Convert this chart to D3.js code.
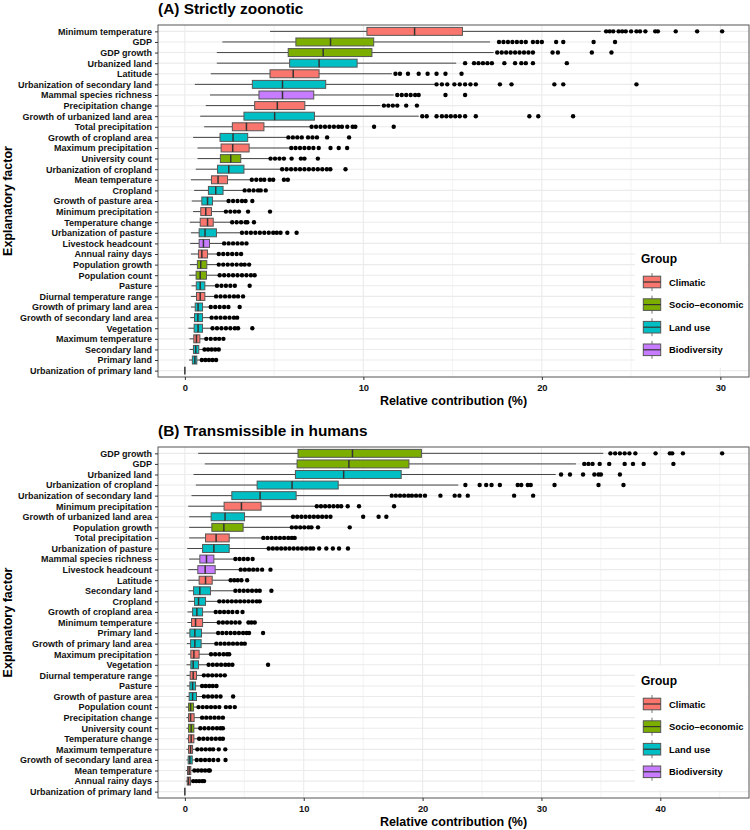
<!DOCTYPE html>
<html>
<head>
<meta charset="utf-8">
<script src="https://cdn.jsdelivr.net/npm/d3@7"></script>
<style>
  body { margin: 0; background: #fff; }
  svg { display: block; font-family: "Liberation Sans", Arial, Helvetica, sans-serif; }
</style>
</head>
<body>
<svg id="chart" width="750" height="830"></svg>
<script>
var groupNames = ["Climatic", "Socio–economic", "Land use", "Biodiversity"];
var groupColors = ["#F8766D", "#7CAE00", "#00BFC4", "#C77CFF"];

var climaticFactors = ["Minimum temperature", "Latitude", "Precipitation change", "Total precipitation",
  "Maximum precipitation", "Mean temperature", "Minimum precipitation", "Temperature change",
  "Annual rainy days", "Diurnal temperature range", "Maximum temperature"];
var socioFactors = ["GDP", "GDP growth", "University count", "Population growth", "Population count"];
var bioFactors = ["Mammal species richness", "Livestock headcount"];

// (A) Strictly zoonotic
var factorsA = ["Minimum temperature", "GDP", "GDP growth", "Urbanized land", "Latitude",
  "Urbanization of secondary land", "Mammal species richness", "Precipitation change",
  "Growth of urbanized land area", "Total precipitation", "Growth of cropland area",
  "Maximum precipitation", "University count", "Urbanization of cropland", "Mean temperature",
  "Cropland", "Growth of pasture area", "Minimum precipitation", "Temperature change",
  "Urbanization of pasture", "Livestock headcount", "Annual rainy days", "Population growth",
  "Population count", "Pasture", "Diurnal temperature range", "Growth of primary land area",
  "Growth of secondary land area", "Vegetation", "Maximum temperature", "Secondary land",
  "Primary land", "Urbanization of primary land"];
var lowA = [4.77, 2.1, 1.79, 1.79, 1.45, 0.56, 1.41, 1.17, 0.86, 1.08, 0.46, 0.71, 0.71, 0.61, 0.34, 0.52,
  0.39, 0.46, 0.28, 0.34, 0.3, 0.34, 0.28, 0.24, 0.37, 0.34, 0.34, 0.3, 0.2, 0.26, 0.26, 0.24, 0];
var q1A = [10.2, 6.22, 5.79, 5.87, 4.77, 3.78, 4.15, 3.91, 3.31, 2.66, 1.97, 2.03, 1.99, 1.83, 1.49, 1.32,
  0.95, 0.89, 0.86, 0.8, 0.8, 0.76, 0.7, 0.63, 0.64, 0.65, 0.58, 0.54, 0.52, 0.5, 0.48, 0.42, 0];
var medA = [12.87, 8.16, 7.75, 7.52, 6.07, 5.47, 5.47, 5.18, 5.03, 3.45, 2.7, 2.68, 2.57, 2.46, 1.86, 1.73,
  1.27, 1.17, 1.27, 1.13, 1.04, 0.95, 0.89, 0.86, 0.86, 0.86, 0.74, 0.73, 0.74, 0.65, 0.61, 0.56, 0];
var q3A = [15.55, 10.58, 10.48, 9.65, 7.52, 7.89, 7.22, 6.72, 7.26, 4.43, 3.52, 3.6, 3.13, 3.31, 2.39, 2.14,
  1.55, 1.49, 1.59, 1.77, 1.38, 1.27, 1.23, 1.21, 1.12, 1.12, 0.99, 0.99, 0.99, 0.84, 0.78, 0.67, 0];
var highA = [23.3, 17.1, 17.3, 15.2, 11.6, 14.0, 11.7, 10.95, 13.1, 7.04, 5.74, 5.9, 4.71, 5.42, 3.69, 3.31,
  2.39, 2.23, 2.61, 3.16, 2.15, 1.86, 1.83, 1.92, 1.76, 1.68, 1.41, 1.48, 1.5, 1.17, 1.08, 0.93, 0];
var outliersA = [
  [23.6, 23.8, 24.0, 24.3, 24.5, 24.7, 25.0, 25.3, 25.5, 25.8, 26.35, 26.5, 27.5, 28.7, 30.1],
  [17.6, 17.85, 18.1, 18.35, 18.6, 18.85, 19.1, 19.5, 19.75, 20.0, 20.8, 21.2, 22.9, 24.1],
  [17.5, 17.75, 18.0, 18.25, 18.5, 18.75, 19.0, 19.25, 19.5, 20.6, 20.9, 22.8, 23.9],
  [15.7, 16.2, 16.45, 16.7, 16.95, 17.2, 17.9, 18.5, 18.85, 19.1, 19.5, 21.4],
  [11.8, 12.05, 12.5, 13.1, 13.6, 14.1, 14.6, 15.5],
  [14.1, 14.4, 14.7, 15.1, 15.4, 15.7, 16.0, 16.3, 17.65, 18.3, 20.7, 21.2, 25.3],
  [11.9, 12.15, 12.4, 12.65, 12.9, 13.1, 14.6, 15.7],
  [11.15, 11.4, 11.65, 11.9, 12.4, 13.0],
  [13.3, 13.55, 14.1, 14.4, 14.65, 14.9, 15.15, 15.4, 15.7, 16.3, 19.3, 19.8, 21.75],
  [7.1, 7.35, 7.6, 7.85, 8.1, 8.35, 8.6, 8.8, 9.1, 9.4, 9.55, 10.6, 11.7],
  [5.8, 6.05, 6.3, 6.55, 6.9, 7.15, 7.4, 7.97, 9.2],
  [5.96, 6.2, 6.45, 6.7, 6.95, 7.2, 7.5, 8.16, 8.62, 9.09],
  [4.8, 5.05, 5.3, 5.55, 5.98, 6.5, 6.7, 7.45],
  [5.45, 5.7, 5.95, 6.2, 6.45, 6.7, 6.95, 7.2, 7.45, 7.7, 7.95, 8.15, 9.0],
  [3.75, 4.0, 4.25, 4.45, 4.75, 4.95, 5.55, 5.77],
  [3.35, 3.6, 3.85, 4.1, 4.25, 4.53],
  [2.45, 2.7, 2.95, 3.2, 3.4, 3.78],
  [2.3, 2.55, 2.8, 3.03, 3.54, 4.77],
  [2.65, 2.9, 3.15, 3.4, 3.5, 3.87],
  [3.2, 3.45, 3.7, 3.95, 4.2, 4.45, 4.7, 4.95, 5.15, 5.36, 5.74, 6.26],
  [2.2, 2.45, 2.7, 2.95, 3.2, 3.45],
  [1.9, 2.15, 2.4, 2.65, 2.9, 3.15],
  [1.9, 2.15, 2.4, 2.65, 2.9, 3.15, 3.35, 3.6],
  [1.95, 2.2, 2.45, 2.7, 2.95, 3.2, 3.45, 3.7, 3.91],
  [1.8, 2.05, 2.3, 2.55, 2.8, 3.63],
  [1.75, 2.0, 2.25, 2.5, 2.75, 2.98, 3.26],
  [1.45, 1.7, 1.95, 2.2, 2.44, 3.07],
  [1.5, 1.75, 2.0, 2.25, 2.5, 2.75, 2.93],
  [1.55, 1.8, 2.05, 2.3, 2.55, 2.8, 2.98, 3.78],
  [1.2, 1.45, 1.7, 1.92, 2.16],
  [1.1, 1.3, 1.5, 1.7, 1.9],
  [0.95, 1.15, 1.35, 1.55, 1.75],
  []
];

// (B) Transmissible in humans
var factorsB = ["GDP growth", "GDP", "Urbanized land", "Urbanization of cropland",
  "Urbanization of secondary land", "Minimum precipitation", "Growth of urbanized land area",
  "Population growth", "Total precipitation", "Urbanization of pasture", "Mammal species richness",
  "Livestock headcount", "Latitude", "Secondary land", "Cropland", "Growth of cropland area",
  "Minimum temperature", "Primary land", "Growth of primary land area", "Maximum precipitation",
  "Vegetation", "Diurnal temperature range", "Pasture", "Growth of pasture area", "Population count",
  "Precipitation change", "University count", "Temperature change", "Maximum temperature",
  "Growth of secondary land area", "Mean temperature", "Annual rainy days",
  "Urbanization of primary land"];
var lowB = [1.12, 1.68, 0.73, 0.92, 0.56, 0.28, 0.36, 0.36, 0.36, 0.2, 0.36, 0.28, 0.22, 0.3, 0.28, 0.22,
  0.22, 0.14, 0.17, 0.28, 0.14, 0.14, 0.17, 0.14, 0.08, 0.14, 0.14, 0.14, 0.14, 0.14, 0.08, 0.08, 0];
var q1B = [9.52, 9.44, 9.3, 6.08, 3.95, 3.3, 2.21, 2.27, 1.74, 1.49, 1.26, 1.09, 1.2, 0.73, 0.81, 0.65,
  0.56, 0.42, 0.48, 0.5, 0.5, 0.45, 0.42, 0.36, 0.31, 0.31, 0.31, 0.31, 0.31, 0.28, 0.22, 0.2, 0];
var medB = [14.1, 13.8, 13.36, 9.02, 6.33, 4.76, 3.38, 3.28, 2.63, 2.44, 1.82, 1.71, 1.74, 1.26, 1.15, 1.01,
  0.9, 0.84, 0.84, 0.76, 0.7, 0.7, 0.65, 0.65, 0.48, 0.48, 0.53, 0.53, 0.48, 0.42, 0.36, 0.31, 0];
var q3B = [19.9, 18.85, 18.2, 12.9, 9.36, 6.41, 5.02, 4.9, 3.73, 3.73, 2.44, 2.55, 2.3, 2.16, 1.74, 1.49,
  1.49, 1.4, 1.37, 1.2, 1.15, 0.98, 0.9, 0.98, 0.73, 0.78, 0.76, 0.76, 0.65, 0.62, 0.5, 0.48, 0];
var highB = [35.2, 32.9, 31.2, 23.0, 17.2, 11.07, 9.1, 8.97, 6.58, 7.0, 4.2, 4.62, 3.78, 4.2, 2.88, 2.52,
  2.8, 2.75, 2.6, 2.16, 1.96, 1.54, 1.4, 1.54, 1.12, 1.4, 1.26, 1.15, 1.03, 0.98, 0.76, 0.65, 0];
var outliersB = [
  [35.8, 36.2, 36.6, 37.0, 37.4, 37.9, 39.6, 40.8, 41.0, 41.9, 45.2],
  [33.6, 33.95, 34.3, 34.9, 35.7, 37.0, 37.7, 38.6, 41.1],
  [31.65, 32.4, 33.5, 34.45, 34.8, 35.0, 36.6],
  [23.6, 24.8, 25.35, 25.8, 26.5, 28.0, 28.3, 28.85, 29.1, 31.1, 34.8, 36.9],
  [17.4, 17.75, 18.1, 18.45, 18.8, 19.1, 19.45, 19.8, 20.2, 21.5, 22.7, 23.1, 23.8, 27.7, 29.3],
  [11.1, 11.45, 11.8, 12.15, 12.5, 12.85, 13.15, 13.7, 14.65, 17.6],
  [9.1, 9.45, 9.8, 10.15, 10.5, 10.85, 11.2, 11.55, 11.9, 12.25, 15.0, 16.3, 16.95],
  [9.0, 9.35, 9.7, 10.05, 10.4, 10.65, 11.2, 13.87],
  [6.6, 6.95, 7.3, 7.65, 8.0, 8.35, 8.7, 9.0, 9.24],
  [7.05, 7.4, 7.75, 8.1, 8.45, 8.8, 9.15, 9.5, 9.85, 10.2, 10.55, 10.8, 11.3, 11.9, 12.45, 12.97, 13.72],
  [4.25, 4.6, 4.95, 5.3, 5.7],
  [4.7, 5.05, 5.4, 5.75, 6.1, 6.5, 7.2],
  [3.85, 4.15, 4.45, 4.76, 5.24],
  [4.25, 4.6, 4.95, 5.3, 5.65, 6.0, 6.3, 7.28],
  [2.9, 3.25, 3.6, 3.95, 4.3, 4.65, 5.0, 5.35, 5.7, 6.05, 6.3],
  [2.6, 2.95, 3.3, 3.65, 4.0, 4.4, 4.85],
  [2.85, 3.2, 3.55, 3.9, 4.25, 4.6, 5.35, 5.6, 5.88],
  [2.8, 3.15, 3.5, 3.85, 4.2, 4.55, 4.9, 5.2, 5.4, 6.58],
  [2.65, 3.0, 3.35, 3.7, 4.05, 4.4, 4.75, 5.04],
  [2.2, 2.55, 2.9, 3.25, 3.55, 3.73],
  [2.0, 2.35, 2.7, 3.05, 3.4, 3.7, 4.0, 7.0],
  [1.6, 1.95, 2.3, 2.65, 3.0, 3.36],
  [1.45, 1.75, 2.05, 2.35, 2.66],
  [1.6, 1.95, 2.3, 2.65, 3.0, 4.06],
  [1.15, 1.5, 1.85, 2.2, 2.55, 2.9, 3.45, 3.8, 4.2],
  [1.45, 1.8, 2.15, 2.5, 2.85, 3.2],
  [1.3, 1.65, 2.0, 2.35, 2.7, 3.0, 3.2],
  [1.2, 1.55, 1.9, 2.25, 2.6, 2.95, 3.2],
  [1.05, 1.4, 1.75, 2.1, 2.38, 2.85, 3.4],
  [1.0, 1.35, 1.7, 2.05, 2.4, 2.8, 3.42],
  [0.8, 1.1, 1.4, 1.7, 2.0, 2.1],
  [0.7, 0.95, 1.2, 1.45, 1.62],
  []
];

var ticksA = [0, 10, 20, 30];
var minorA = [5, 15, 25];
var ticksB = [0, 10, 20, 30, 40];
var minorB = [5, 15, 25, 35, 45];

var svg = d3.select("#chart");
var plotLeft = 158;
var plotRight = 749;

function groupOf(name) {
  if (climaticFactors.indexOf(name) >= 0) return 0;
  if (socioFactors.indexOf(name) >= 0) return 1;
  if (bioFactors.indexOf(name) >= 0) return 3;
  return 2;
}

/**
 * Draws one boxplot panel with its legend
 */
function drawPanel(p) {
  var g = svg.append("g");
  var maxVal = d3.max([d3.max(p.high), d3.max(p.outliers, function(o) { return d3.max(o) || 0; })]);

  var x = d3.scaleLinear()
    .domain([-0.05 * maxVal, 1.05 * maxVal])
    .range([plotLeft, plotRight]);
  var y = d3.scalePoint()
    .domain(p.factors)
    .range([p.top, p.bottom])
    .padding(0.6);
  var boxH = y.step() * 0.75;

  // grid
  g.selectAll(".minor").data(p.minor).enter().append("line")
    .attr("x1", function(d) { return x(d); }).attr("x2", function(d) { return x(d); })
    .attr("y1", p.top).attr("y2", p.bottom)
    .attr("stroke", "#EBEBEB").attr("stroke-width", 0.6);
  g.selectAll(".major").data(p.ticks).enter().append("line")
    .attr("x1", function(d) { return x(d); }).attr("x2", function(d) { return x(d); })
    .attr("y1", p.top).attr("y2", p.bottom)
    .attr("stroke", "#EBEBEB").attr("stroke-width", 1.1);
  g.selectAll(".hgrid").data(p.factors).enter().append("line")
    .attr("x1", plotLeft).attr("x2", plotRight)
    .attr("y1", function(d) { return y(d); }).attr("y2", function(d) { return y(d); })
    .attr("stroke", "#EBEBEB").attr("stroke-width", 1.1);

  var rows = p.factors.map(function(f, i) {
    return { name: f, low: p.low[i], q1: p.q1[i], med: p.med[i], q3: p.q3[i], high: p.high[i],
      out: p.outliers[i], grp: groupOf(f) };
  });

  var row = g.selectAll(".row").data(rows).enter().append("g")
    .attr("transform", function(d) { return "translate(0," + y(d.name) + ")"; });

  row.append("line")
    .attr("x1", function(d) { return x(d.low); }).attr("x2", function(d) { return x(d.q1); })
    .attr("stroke", "#444").attr("stroke-width", 1);
  row.append("line")
    .attr("x1", function(d) { return x(d.q3); }).attr("x2", function(d) { return x(d.high); })
    .attr("stroke", "#444").attr("stroke-width", 1);
  row.append("rect")
    .attr("x", function(d) { return x(d.q1); })
    .attr("width", function(d) { return x(d.q3) - x(d.q1); })
    .attr("y", -boxH / 2).attr("height", boxH)
    .attr("fill", function(d) { return groupColors[d.grp]; })
    .attr("stroke", "#555").attr("stroke-width", 1);
  row.append("line")
    .attr("x1", function(d) { return x(d.med); }).attr("x2", function(d) { return x(d.med); })
    .attr("y1", -boxH / 2).attr("y2", boxH / 2)
    .attr("stroke", "#333").attr("stroke-width", 1.5);
  row.selectAll("circle").data(function(d) { return d.out; }).enter().append("circle")
    .attr("cx", function(d) { return x(d); })
    .attr("r", 2.2)
    .attr("fill", "#000");

  // border
  g.append("rect")
    .attr("x", plotLeft).attr("y", p.top)
    .attr("width", plotRight - plotLeft).attr("height", p.bottom - p.top)
    .attr("fill", "none").attr("stroke", "#555").attr("stroke-width", 1);

  // axes
  var yAxis = g.append("g")
    .attr("transform", "translate(" + plotLeft + ",0)")
    .call(d3.axisLeft(y).tickSize(3).tickPadding(3));
  var xAxis = g.append("g")
    .attr("transform", "translate(0," + p.bottom + ")")
    .call(d3.axisBottom(x).tickValues(p.ticks).tickSize(3).tickPadding(4));
  [yAxis, xAxis].forEach(function(a) {
    a.select(".domain").remove();
    a.selectAll("line").attr("stroke", "#333");
    a.selectAll("text").attr("fill", "#111").attr("font-size", 9).attr("font-weight", "bold")
      .attr("font-family", "Liberation Sans, Arial, sans-serif");
  });
  xAxis.selectAll("text").attr("font-size", 9.4);

  g.append("text")
    .attr("x", plotLeft).attr("y", p.top - 11)
    .attr("font-size", 15.4).attr("font-weight", "bold")
    .text(p.title);
  g.append("text")
    .attr("x", (plotLeft + plotRight) / 2).attr("y", p.bottom + 28)
    .attr("text-anchor", "middle")
    .attr("font-size", 12.5).attr("font-weight", "bold")
    .text("Relative contribution (%)");
  g.append("text")
    .attr("transform", "translate(12," + (p.top + p.bottom) / 2 + ") rotate(-90)")
    .attr("text-anchor", "middle")
    .attr("font-size", 12.5).attr("font-weight", "bold")
    .text("Explanatory factor");

  // legend
  var lg = g.append("g").attr("transform", "translate(635," + p.legendTop + ")");
  lg.append("rect").attr("width", 113).attr("height", 124).attr("fill", "#fff");
  lg.append("text").attr("x", 6).attr("y", 19)
    .attr("font-size", 12).attr("font-weight", "bold").text("Group");
  var key = lg.selectAll(".key").data(groupNames).enter().append("g")
    .attr("transform", function(d, i) { return "translate(17," + (38 + i * 22.6) + ")"; });
  key.append("line").attr("y1", -9).attr("y2", 9).attr("stroke", "#777").attr("stroke-width", 1);
  key.append("rect").attr("x", -8.7).attr("y", -5.8).attr("width", 17.4).attr("height", 11.6)
    .attr("fill", function(d, i) { return groupColors[i]; })
    .attr("stroke", "#555").attr("stroke-width", 1);
  key.append("line").attr("x1", -8.7).attr("x2", 8.7).attr("stroke", "#333").attr("stroke-width", 1.2);
  key.append("text").attr("x", 17).attr("y", 3.5)
    .attr("font-size", 9.4).attr("font-weight", "bold").text(function(d) { return d; });
}

drawPanel({
  title: "(A) Strictly zoonotic", top: 25, bottom: 377, legendTop: 244,
  factors: factorsA, low: lowA, q1: q1A, med: medA, q3: q3A, high: highA, outliers: outliersA,
  ticks: ticksA, minor: minorA
});
drawPanel({
  title: "(B) Transmissible in humans", top: 447, bottom: 798, legendTop: 666,
  factors: factorsB, low: lowB, q1: q1B, med: medB, q3: q3B, high: highB, outliers: outliersB,
  ticks: ticksB, minor: minorB
});
</script>
</body>
</html>
